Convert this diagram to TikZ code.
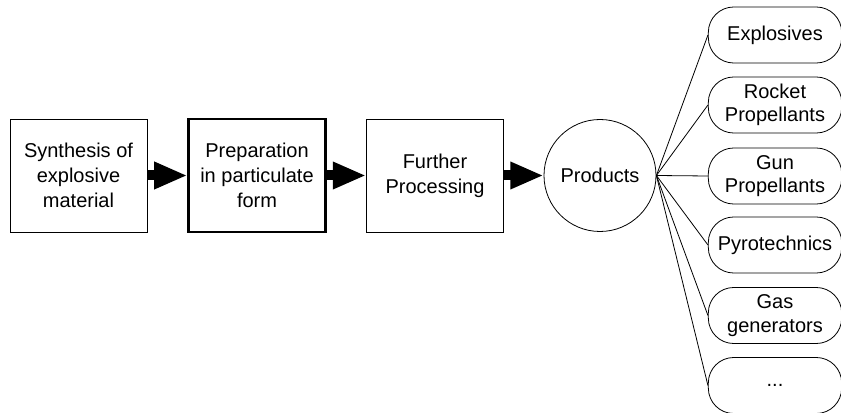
\documentclass[tikz,border=0pt]{standalone}
\usepackage{fontspec}
\setmainfont{Liberation Sans}
\usetikzlibrary{arrows.meta}
\begin{document}
\begin{tikzpicture}[x=0.75pt,y=-0.75pt,
  every node/.style={font=\fontsize{15pt}{18.5pt}\selectfont, align=center, inner sep=0pt},
  procbox/.style={draw, line width=0.6pt, minimum width=102.75pt, minimum height=84.75pt},
  thickbox/.style={procbox, line width=1.6pt},
  prodbox/.style={draw, line width=0.6pt, rounded corners=19pt, minimum width=100pt, minimum height=42pt, font=\fontsize{15pt}{17.5pt}\selectfont},
  bigarrow/.style={line width=7.5pt, -{Triangle[length=25pt, width=19pt]}},
  link/.style={line width=0.6pt}]
\useasboundingbox (0,0) rectangle (841,413);
\node[procbox] (b1) at (78.5,175.5) {Synthesis of\\explosive\\material};
\node[thickbox] (b2) at (257,175.5) {Preparation\\in particulate\\form};
\node[procbox] (b3) at (435,175.5) {Further\\Processing};
\node[draw, circle, line width=0.6pt, minimum size=84pt] (pr) at (600,175.5) {Products};
\draw[bigarrow] (b1.east) -- (b2.west);
\draw[bigarrow] (b2.east) -- (b3.west);
\draw[bigarrow] (b3.east) -- (pr.west);
\node[prodbox] (p1) at (775,35) {Explosives};
\node[prodbox] (p2) at (775,105) {Rocket\\Propellants};
\node[prodbox] (p3) at (775,176) {Gun\\Propellants};
\node[prodbox] (p4) at (775,245) {Pyrotechnics};
\node[prodbox] (p5) at (775,315.5) {Gas\\generators};
\node[prodbox] (p6) at (775,385.5) {...};
\foreach \p in {p1,p2,p3,p4,p5,p6}
  \draw[link] (pr.east) -- (\p.west);
\end{tikzpicture}
\end{document}
